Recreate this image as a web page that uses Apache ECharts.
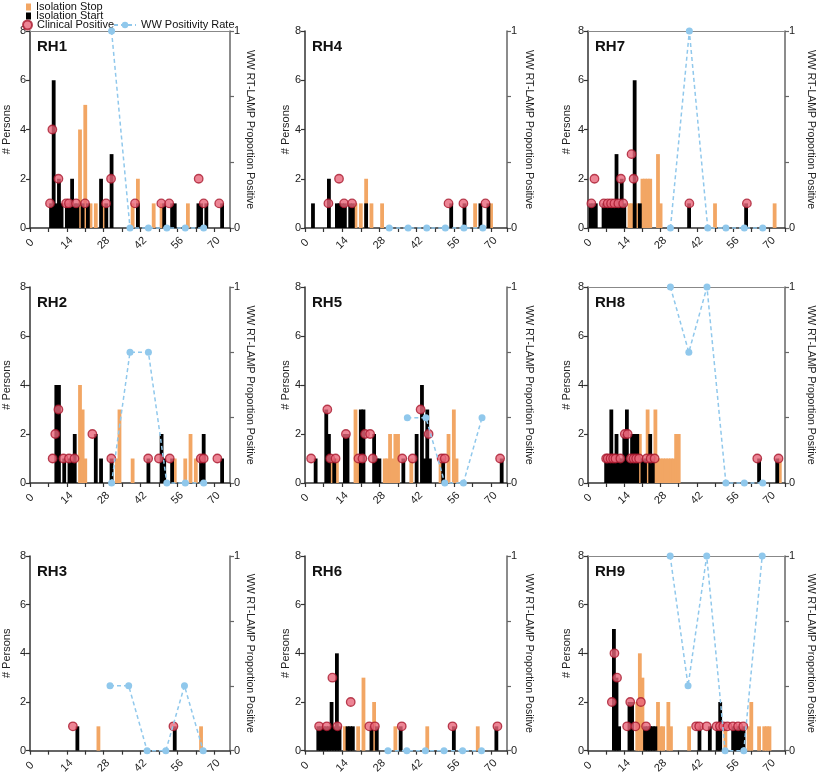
<!DOCTYPE html>
<html><head><meta charset="utf-8">
<script src="https://cdn.jsdelivr.net/npm/echarts@6/dist/echarts.min.js"></script>
<style>html,body{margin:0;padding:0;background:#fff}#c{width:817px;height:776px}</style>
</head><body><div id="c"></div>
<script>
// ---- data (day, count) ----
const xTickLabels = [0, 14, 28, 42, 56, 70];
const panelNames = ['RH1','RH4','RH7','RH2','RH5','RH8','RH3','RH6','RH9'];

const rh1Stop  = [[19,4],[21,5],[23,1],[25,1],[28,1],[39,1],[41,2],[47,1],[50,1],[60,1]];
const rh1Start = [[8,1],[9,6],[10,1],[11,2],[12,1],[14,1],[15,1],[16,2],[17,1],[18,1],[20,1],[22,1],[27,2],[29,1],[31,3],[41,1],[51,1],[54,1],[55,1],[64,1],[65,1],[67,1],[73,1]];
const rh1Clin  = [[7.6,1],[8.5,4],[10.8,2],[13.7,1],[14.8,1],[17.5,1],[20.9,1],[28.9,1],[30.8,2],[39.9,1],[49.9,1],[52.9,1],[64.1,2],[66,1],[71.9,1]];
const rh1WW    = [[31,1],[38,0],[45,0],[52,0],[59,0],[66,0]];

const rh4Stop  = [[19,1],[21,1],[23,2],[25,1],[29,1],[64,1],[70,1]];
const rh4Start = [[3,1],[9,2],[12,1],[13,1],[14,1],[15,1],[17,1],[18,1],[23,1],[55,1],[60,1],[66,1],[69,1]];
const rh4Clin  = [[8.8,1],[12.8,2],[14.7,1],[17.7,1],[54,1],[59.6,1],[67.9,1]];
const rh4WW    = [[31.7,0],[38.8,0],[45.8,0],[52.8,0],[59.8,0],[66.9,0]];

const rh7Stop  = [[16,1],[17,1],[19,1],[21,2],[22,2],[23,2],[24,2],[27,3],[28,1],[49,1],[72,1]];
const rh7Start = [[1,1],[2,1],[3,1],[6,1],[7,1],[8,1],[9,1],[10,1],[11,3],[12,1],[13,2],[14,1],[18,6],[20,1],[39,1],[61,1]];
const rh7Clin  = [[1.3,1],[2.5,2],[6.1,1],[7.6,1],[8.9,1],[10.2,1],[11.7,1],[12.7,2],[13.6,1],[16.8,3],[17.6,2],[39.1,1],[61.3,1]];
const rh7WW    = [[31.8,0],[39.1,1],[46.2,0],[53.2,0],[60.3,0],[67.4,0]];

const rh2Stop  = [[19,4],[20,3],[21,1],[33,1],[34,3],[39,1],[55,1],[59,1],[61,2],[63,1]];
const rh2Start = [[10,4],[11,4],[13,1],[15,1],[16,1],[17,2],[25,2],[27,1],[31,1],[45,1],[50,2],[51,1],[54,1],[65,1],[66,2],[73,1]];
const rh2Clin  = [[8.6,1],[9.6,2],[10.8,3],[12.7,1],[14.8,1],[16.9,1],[23.7,2],[30.9,1],[44.9,1],[49,1],[53.1,1],[64.9,1],[66,1],[71.2,1]];
const rh2WW    = [[31,0],[38,0.667],[45,0.667],[52,0],[59,0],[66,0]];

const rh5Stop  = [[10,1],[12,1],[19,3],[20,1],[30,1],[31,1],[32,2],[33,1],[34,2],[35,2],[40,1],[51,1],[54,2],[56,3],[57,1]];
const rh5Start = [[4,1],[8,3],[9,2],[11,1],[15,2],[16,2],[21,3],[22,3],[26,2],[27,1],[28,1],[37,1],[42,2],[44,4],[45,1],[46,3],[47,1],[52,1],[74,1]];
const rh5Clin  = [[2.3,1],[8.4,3],[9.5,1],[11.5,1],[15.4,2],[20.1,1],[21.6,1],[22.6,2],[24.5,2],[25.5,1],[36.6,1],[40.5,1],[43.5,3],[46.5,2],[51.4,1],[52.6,1],[73.4,1]];
const rh5WW    = [[38.5,0.333],[45.5,0.333],[52.6,0],[59.6,0],[66.6,0.333]];

const rh8Stop  = [[20,2],[23,3],[26,3],[27,1],[28,1],[29,1],[30,1],[31,1],[32,1],[33,1],[34,2],[35,2],[74,1]];
const rh8Start = [[7,1],[8,1],[9,3],[10,1],[11,2],[12,1],[13,1],[14,2],[15,3],[16,1],[17,2],[18,2],[19,2],[21,1],[22,1],[24,2],[25,1],[66,1],[73,1]];
const rh8Clin  = [[7,1],[7.6,1],[8.7,1],[9.7,1],[10.6,1],[12.5,1],[14.2,2],[15.3,2],[16.5,1],[17.6,1],[18.6,1],[19.7,1],[22.6,1],[24.2,1],[25.7,1],[65.3,1],[73.5,1]];
const rh8WW    = [[31.8,1],[38.9,0.667],[45.9,1],[53.2,0],[60.3,0],[67.4,0]];

const rh3Stop  = [[26,1],[65,1]];
const rh3Start = [[18,1],[55,1]];
const rh3Clin  = [[16.3,1],[54.5,1]];
const rh3WW    = [[30.4,0.333],[37.5,0.333],[44.5,0],[51.6,0],[58.7,0.333],[65.8,0]];

const rh6Stop  = [[15,1],[20,1],[22,3],[26,2],[34,1],[46,1],[65,1]];
const rh6Start = [[5,1],[6,1],[7,1],[8,1],[9,1],[10,2],[11,1],[12,4],[13,1],[16,1],[17,1],[18,1],[25,1],[27,1],[36,1],[56,1],[72,1]];
const rh6Clin  = [[5.3,1],[8.2,1],[10.3,3],[12.2,1],[17.2,2],[24.2,1],[26.3,1],[36.4,1],[55.5,1],[72.4,1]];
const rh6WW    = [[31.2,0],[38.3,0],[45.3,0],[52.3,0],[59.3,0],[66.4,0]];

const rh9Stop  = [[19,2],[20,4],[21,3],[27,2],[28,1],[29,1],[31,2],[32,1],[39,1],[53,1],[62,1],[63,2],[66,1],[68,1],[69,1],[70,1]];
const rh9Start = [[10,5],[11,3],[12,1],[16,2],[17,2],[22,1],[23,1],[24,1],[25,1],[26,1],[43,1],[47,1],[50,1],[51,2],[56,1],[57,1],[58,1],[59,1],[60,1]];
const rh9Clin  = [[9.2,2],[10.2,4],[11.2,3],[15.1,1],[16.3,2],[18.3,1],[20.4,2],[22.4,1],[41.7,1],[42.9,1],[45.8,1],[49.6,1],[50.9,1],[52.2,1],[53.8,1],[55.9,1],[57.9,1],[59.9,1]];
const rh9WW    = [[31.7,1],[38.6,0.333],[45.8,1],[52.9,0],[60.1,0],[67.2,1]];

const stopSets  = [rh1Stop, rh4Stop, rh7Stop, rh2Stop, rh5Stop, rh8Stop, rh3Stop, rh6Stop, rh9Stop];
const startSets = [rh1Start, rh4Start, rh7Start, rh2Start, rh5Start, rh8Start, rh3Start, rh6Start, rh9Start];
const clinSets  = [rh1Clin, rh4Clin, rh7Clin, rh2Clin, rh5Clin, rh8Clin, rh3Clin, rh6Clin, rh9Clin];
const wwSets    = [rh1WW, rh4WW, rh7WW, rh2WW, rh5WW, rh8WW, rh3WW, rh6WW, rh9WW];

// ---- layout ----
const FONT = '"Liberation Sans", Arial, Helvetica, sans-serif';
const colLeft = [30, 305, 588], colWidth = [200, 202, 199];
const rowTop = [31, 287, 556], rowHeight = [197, 196, 196];
const leftNameGap = [18, 12, 16], rightNameGap = [13, 16, 20];
const C_STOP = '#F2A664', C_START = '#000000', C_CLIN = '#E8677B', C_CLIN_B = '#A8162C', C_WW = '#90C8EC', C_AX = '#333';

const grid = [], xAxis = [], yAxis = [], series = [], title = [];
panelNames.forEach((name, i) => {
  const c = i % 3, r = Math.floor(i / 3);
  grid.push({left: colLeft[c], top: rowTop[r], width: colWidth[c], height: rowHeight[r], containLabel: false});
  title.push({text: name, left: colLeft[c] + 7, top: rowTop[r] + 8, padding: 0,
    textStyle: {fontSize: 15, fontWeight: 'bold', color: '#111', fontFamily: FONT}});
  const xi = xAxis.length;
  xAxis.push({type: 'value', gridIndex: i, position: 'bottom', min: 0, max: 76, interval: 7,
    axisLine: {show: true, onZero: false, lineStyle: {color: C_AX, width: 1.5}},
    axisTick: {show: true, length: 4, lineStyle: {color: C_AX, width: 1.2}},
    splitLine: {show: false},
    axisLabel: {rotate: 45, align: 'center', verticalAlign: 'middle', fontSize: 11, color: '#222', fontFamily: FONT, margin: 15,
      formatter: v => xTickLabels.includes(v) ? String(v) : ''}});
  if (wwSets[i].some(p => p[1] >= 1)) {
    xAxis.push({type: 'value', gridIndex: i, position: 'top', min: 0, max: 76,
      axisLine: {show: true, onZero: false, lineStyle: {color: '#888', width: 1.2}},
      axisTick: {show: false}, axisLabel: {show: false}, splitLine: {show: false}});
  }
  const yl = yAxis.length;
  yAxis.push({type: 'value', gridIndex: i, position: 'left', min: 0, max: 8, interval: 2,
    name: '# Persons', nameLocation: 'middle', nameRotate: 90, nameGap: leftNameGap[c],
    nameTextStyle: {fontSize: 11, color: '#222', fontFamily: FONT},
    axisLine: {show: true, onZero: false, lineStyle: {color: C_AX, width: 1.5}},
    axisTick: {show: true, length: 4, lineStyle: {color: C_AX, width: 1.2}},
    splitLine: {show: false},
    axisLabel: {fontSize: 11, color: '#222', fontFamily: FONT, margin: 4}});
  const yr = yAxis.length;
  yAxis.push({type: 'value', gridIndex: i, position: 'right', min: 0, max: 1, interval: 1/3,
    name: 'WW RT-LAMP Proportion Positive', nameLocation: 'middle', nameRotate: -90, nameGap: rightNameGap[c],
    nameTextStyle: {fontSize: 10.5, color: '#222', fontFamily: FONT},
    axisLine: {show: true, onZero: false, lineStyle: {color: '#666', width: 1.5}},
    axisTick: {show: true, length: 4, lineStyle: {color: '#666', width: 1.2}},
    splitLine: {show: false},
    axisLabel: {fontSize: 11, color: '#222', fontFamily: FONT, margin: 4,
      formatter: v => v < 0.001 ? '0' : (v > 0.999 ? '1' : '')}});
  series.push({type: 'bar', name: 'Isolation Stop', xAxisIndex: xi, yAxisIndex: yl, data: stopSets[i],
    barWidth: 3.8, barGap: '-100%', itemStyle: {color: C_STOP}, z: 2});
  series.push({type: 'bar', name: 'Isolation Start', xAxisIndex: xi, yAxisIndex: yl, data: startSets[i],
    barWidth: 3.8, barGap: '-100%', itemStyle: {color: C_START}, z: 2});
  series.push({type: 'scatter', name: 'Clinical Positive', xAxisIndex: xi, yAxisIndex: yl, data: clinSets[i],
    symbolSize: 8.5, itemStyle: {color: C_CLIN, borderColor: C_CLIN_B, borderWidth: 1.3}, z: 3});
  series.push({type: 'line', name: 'WW Positivity Rate', xAxisIndex: xi, yAxisIndex: yr, data: wwSets[i],
    symbol: 'circle', symbolSize: 7, clip: false,
    lineStyle: {type: [4, 3], width: 1.5, color: C_WW}, itemStyle: {color: C_WW}, z: 4});
});

const legText = {fontSize: 11, color: '#111', fontFamily: FONT, lineHeight: 12};
const option = {
  animation: false,
  backgroundColor: '#fff',
  title, grid, xAxis, yAxis, series,
  legend: [
    {data: [{name: 'Isolation Stop', icon: 'rect'}], left: 26, top: 1, padding: 0, itemWidth: 5, itemHeight: 7, selectedMode: false, textStyle: legText},
    {data: [{name: 'Isolation Start', icon: 'rect'}], left: 26, top: 10, padding: 0, itemWidth: 5, itemHeight: 7, selectedMode: false, textStyle: legText},
    {data: [{name: 'Clinical Positive', icon: 'circle'}], left: 22, top: 19, padding: 0, itemWidth: 9, itemHeight: 9, selectedMode: false, textStyle: legText},
    {data: ['WW Positivity Rate'], left: 113, top: 19, padding: 0, itemWidth: 22, itemHeight: 8, selectedMode: false, textStyle: legText}
  ]
};
const chart = echarts.init(document.getElementById('c'), null, {renderer: 'canvas'});
chart.setOption(option);
</script>
</body></html>
